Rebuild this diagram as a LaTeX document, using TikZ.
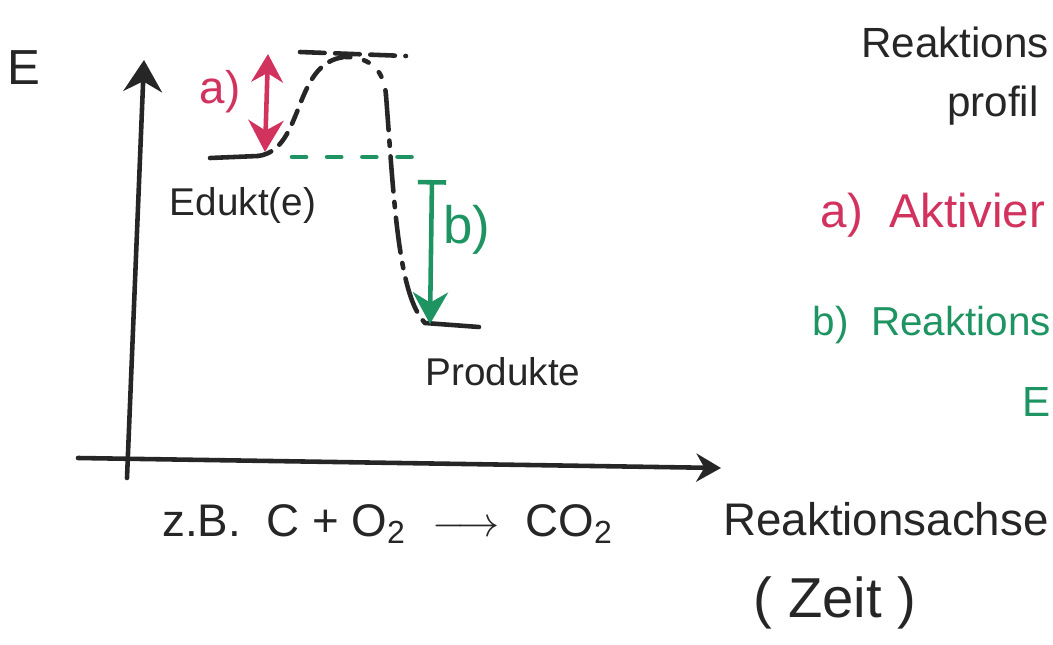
\documentclass[tikz,border=0pt]{standalone}
\usepackage{fontspec}
\setmainfont{Liberation Sans}
\usetikzlibrary{arrows.meta}
\definecolor{inkred}{HTML}{D2325E}
\definecolor{inkgreen}{HTML}{1F9463}
\definecolor{ink}{HTML}{262626}
\begin{document}
\begin{tikzpicture}[x=0.01cm,y=-0.01cm,
  lbl/.style={inner sep=0pt, text=ink},
  redlbl/.style={inner sep=0pt, text=inkred},
  greenlbl/.style={inner sep=0pt, text=inkgreen},
  stroke/.style={draw=ink, line width=1.3pt, line cap=round},
  redstroke/.style={draw=inkred, line width=1.3pt, line cap=round},
  greenstroke/.style={draw=inkgreen, line width=1.3pt, line cap=round},
  tipbig/.style={-{Stealth[length=9pt,width=11pt]}},
]
\useasboundingbox (0,0) rectangle (1053,645);
% axes
\coordinate (yb) at (127,478);
\coordinate (yt) at (144,60);
\coordinate (xl) at (78,458);
\coordinate (xr) at (721,468);
\draw[stroke,tipbig] (yb) -- (yt);
\draw[stroke,-{Stealth[length=7pt,width=8pt]}] (xl) -- (xr);
\node[lbl,font=\fontsize{14}{16}\selectfont] (E) at (24,68) {E};
% energy levels
\coordinate (eduL) at (210,158);
\coordinate (eduR) at (258,156);
\coordinate (peak) at (345,57);
\coordinate (dropTop) at (386,95);
\coordinate (prodL) at (425,323);
\coordinate (prodR) at (479,327);
\draw[stroke] (eduL) -- (eduR);
\draw[stroke] (prodL) -- (prodR);
\draw[stroke,dash pattern=on 4pt off 3pt] (eduR) .. controls (305,150) and (292,62) .. (peak);
\draw[stroke,dash pattern=on 1.5pt off 4pt] (peak) .. controls (372,57) and (384,72) .. (dropTop);
\draw[stroke,dash pattern=on 10pt off 3pt on 1.5pt off 3pt] (dropTop) .. controls (394,200) and (398,295) .. (prodL);
% top dashed line
\coordinate (topL) at (300,52);
\coordinate (topR) at (406,56);
\draw[stroke,dash pattern=on 7pt off 3pt] (topL) -- (topR);
% green dashed line
\coordinate (gdL) at (292,157);
\coordinate (gdR) at (430,157);
\draw[greenstroke,dash pattern=on 4pt off 6pt] (gdL) -- (gdR);
% arrows
\coordinate (ra1) at (268,54);
\coordinate (ra2) at (265,152);
\draw[redstroke,{Stealth[length=8pt,width=9pt]}-{Stealth[length=9pt,width=10pt]}] (ra1) -- (ra2);
\coordinate (ga1) at (432,180);
\coordinate (ga2) at (430,324);
\draw[greenstroke,{Bar[width=8pt]}-{Stealth[length=9pt,width=10pt]}] (ga1) -- (ga2);
% labels
\node[redlbl,font=\fontsize{13}{15}\selectfont] (la) at (220,92) {a)};
\node[greenlbl,font=\fontsize{15}{17}\selectfont] (lb) at (467,230) {b)};
\node[lbl,font=\fontsize{11}{13}\selectfont] (edukt) at (243,205) {Edukt(e)};
\node[lbl,font=\fontsize{11}{13}\selectfont] (produkte) at (503,372) {Produkte};
\node[lbl,font=\fontsize{13}{15}\selectfont] (bsp) at (388,524) {z.B.\ \ C + O\textsubscript{2} \ $\longrightarrow$ \ CO\textsubscript{2}};
\node[lbl,font=\fontsize{13}{15}\selectfont] (achse) at (886,519) {Reaktionsachse};
\node[lbl,font=\fontsize{16}{18}\selectfont] (zeit) at (835,603) {( Zeit )};
\node[lbl,font=\fontsize{12}{14}\selectfont] (titel1) at (955,42) {Reaktions};
\node[lbl,font=\fontsize{12}{14}\selectfont] (titel2) at (993,106) {profil};
\node[redlbl,font=\fontsize{13.5}{16}\selectfont,anchor=west] (aktiv) at (820,215) {a)\ \ Aktivier};
\node[greenlbl,font=\fontsize{11.5}{14}\selectfont,anchor=west] (reakt) at (812,325) {b)\ \ Reaktions};
\node[greenlbl,font=\fontsize{12}{14}\selectfont,anchor=east] (eg) at (1051,402) {E};
\end{tikzpicture}
\end{document}
